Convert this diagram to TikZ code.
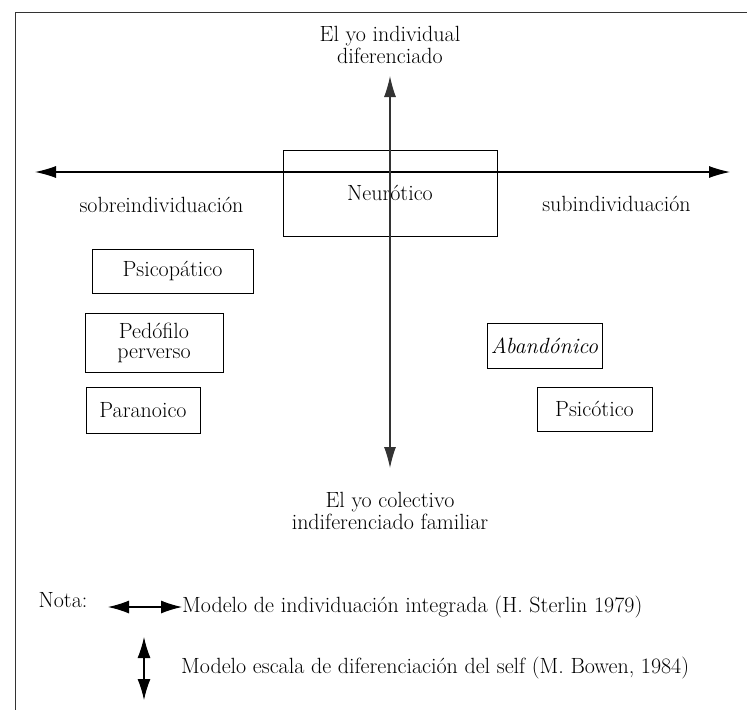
\documentclass[tikz,border=0pt]{standalone}
\usetikzlibrary{arrows.meta}
\begin{document}
\begin{tikzpicture}[x=1pt,y=-1pt,
  lbl/.style={font=\fontsize{22}{22}\selectfont, inner sep=0pt, align=center},
  box/.style={draw, line width=1pt, font=\fontsize{22}{20}\selectfont, inner sep=0pt, align=center},
  axisline/.style={line width=1.1pt, {Latex[length=21pt,width=12pt]}-{Latex[length=21pt,width=12pt]}},
  legendline/.style={line width=1.1pt, {Latex[length=21pt,width=13pt]}-{Latex[length=21pt,width=13pt]}},
  frameline/.style={line width=1pt, black!80}]
\useasboundingbox (0,0) rectangle (747,710);
% frame
\coordinate (fTL) at (15,12);
\coordinate (fTR) at (747,12);
\coordinate (fBL) at (15,710);
\draw[frameline] (fTR) -- (fTL) -- (fBL);
% axis labels
\node[lbl] (top) at (390,45) {El yo individual\\diferenciado};
\node[lbl] (bottom) at (390,511) {El yo colectivo\\indiferenciado familiar};
\node[lbl] (sobre) at (161.5,205) {sobreindividuación};
\node[lbl] (sub) at (616.5,204) {subindividuación};
% boxes
\node[box, minimum width=214pt, minimum height=86pt] (neuro) at (390,193) {};
\node[lbl] (neurotxt) at (390,193) {Neurótico};
\node[box, minimum width=161pt, minimum height=44pt] (psicop) at (172.5,271) {Psicopático};
\node[box, minimum width=138pt, minimum height=59pt] (pedo) at (154,342.5) {Pedófilo\\perverso};
\node[box, minimum width=114pt, minimum height=46pt] (para) at (143,410) {Paranoico};
\node[box, minimum width=115pt, minimum height=45pt] (aban) at (544.5,345.5) {\itshape Abandónico};
\node[box, minimum width=115pt, minimum height=44pt] (psicot) at (594.5,409) {Psicótico};
% axes
\coordinate (vT) at (390,76);
\coordinate (vB) at (390,468);
\coordinate (hL) at (35,172);
\coordinate (hR) at (730,172);
\draw[axisline] (hL) -- (hR);
\draw[axisline, black!80] (vT) -- (vB);
% legend
\node[lbl] (nota) at (63,600) {Nota:};
\node[lbl, anchor=west] (leg1) at (182,607) {Modelo de individuación integrada (H. Sterlin 1979)};
\node[lbl, anchor=west] (leg2) at (181,668) {Modelo escala de diferenciación del self (M. Bowen, 1984)};
\coordinate (lhL) at (108,607);
\draw[legendline] (lhL) -- (leg1.west);
\coordinate (lvT) at (144,637);
\coordinate (lvB) at (144,700);
\draw[legendline] (lvT) -- (lvB);
\end{tikzpicture}
\end{document}
